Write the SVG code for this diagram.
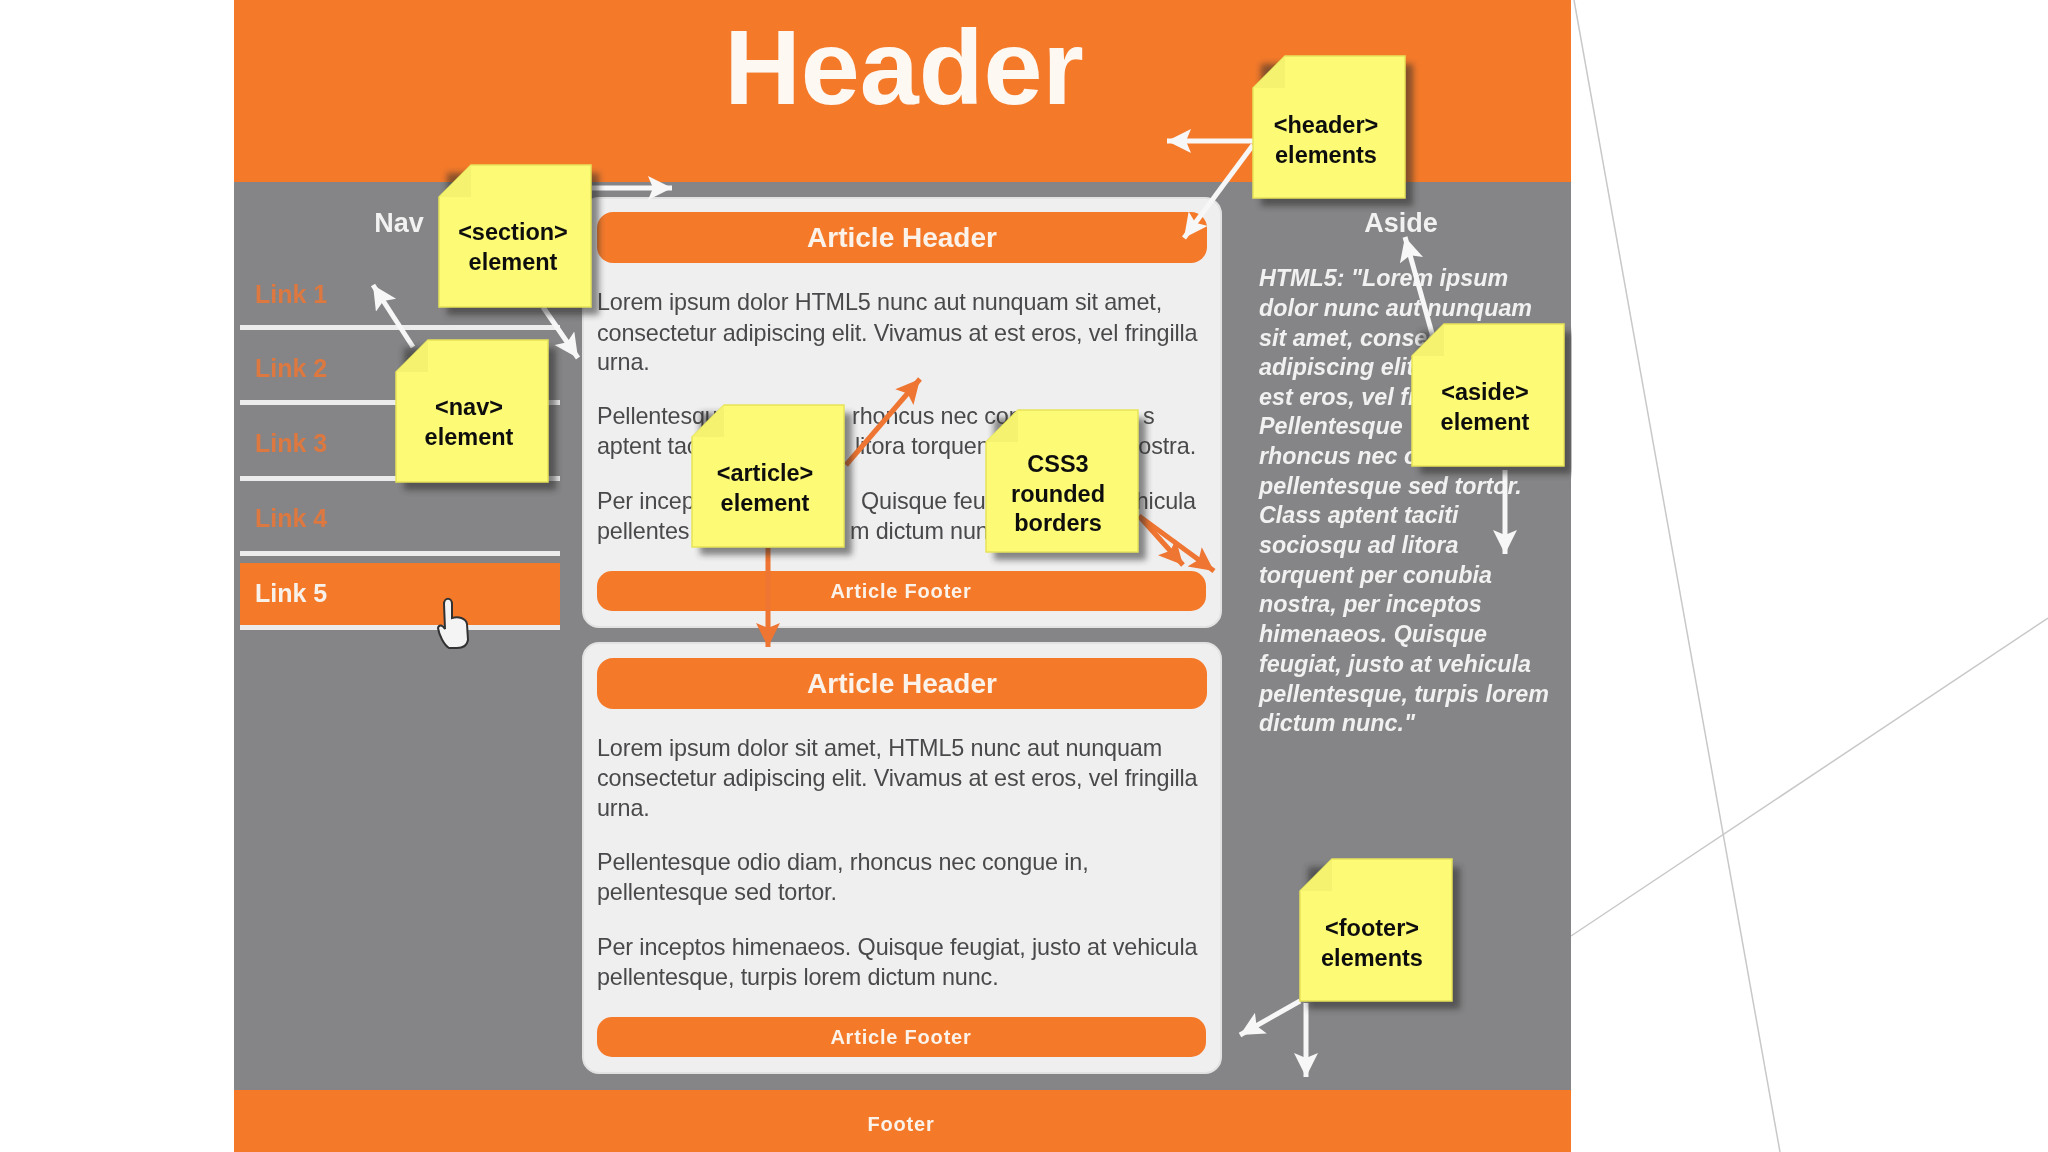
<svg xmlns="http://www.w3.org/2000/svg" width="2048" height="1152" viewBox="0 0 2048 1152">
<defs>
<style>
text{font-family:"Liberation Sans",Arial,sans-serif}
.b{font-size:23.4px;fill:#4a4a4c;letter-spacing:-.14px}
.a{font-size:23.3px;fill:#f1f1f1;font-weight:bold;font-style:italic}
.l{font-size:25px;fill:#dc7840;font-weight:bold}
.t{font-size:27px;fill:#f2f2f2;font-weight:bold;text-anchor:middle}
.ah{font-size:28px;fill:#fbf3ea;font-weight:bold;text-anchor:middle}
.af{font-size:20px;fill:#fbf3ea;font-weight:bold;text-anchor:middle;letter-spacing:.8px}
.n{font-size:23.5px;fill:#111;font-weight:bold;text-anchor:middle}
.pn{fill:#efeff0;stroke:#e2e2e2;stroke-width:2}
.pill{fill:#f47a2c}
.rule{fill:#ececec}
.sheet{fill:#fdfb74;stroke:#e6e45a;stroke-width:1.5}
.fold{fill:#f4f26e}
.w{stroke:#f7f7f7;stroke-width:5;fill:none;marker-end:url(#hw)}
.o{stroke:#ee7430;stroke-width:5;fill:none;marker-end:url(#ho)}
</style>
<marker id="hw" markerUnits="userSpaceOnUse" markerWidth="28" markerHeight="28" refX="24" refY="12" orient="auto"><path d="M0 0L24 12L0 24L5 12Z" fill="#f7f7f7"/></marker>
<marker id="ho" markerUnits="userSpaceOnUse" markerWidth="28" markerHeight="28" refX="24" refY="12" orient="auto"><path d="M0 0L24 12L0 24L5 12Z" fill="#ee7430"/></marker>
<filter id="sh" x="-20%" y="-20%" width="140%" height="140%"><feGaussianBlur stdDeviation="3"/></filter>
<filter id="soft" x="0" y="0" width="100%" height="100%"><feGaussianBlur stdDeviation="0.7"/></filter>
<g id="note"><rect x="8" y="8" width="152" height="142" fill="#2b2b2b" opacity=".55" filter="url(#sh)"/><path class="sheet" d="M32 0H152V142H0V32Z"/><path class="fold" d="M32 0V32H0Z"/></g>
</defs>
<rect width="2048" height="1152" fill="#fff"/>
<g stroke="#c8c8c8" stroke-width="1.5"><line x1="1574" y1="0" x2="1780" y2="1152"/><line x1="1571" y1="936" x2="2048" y2="618"/></g>
<g filter="url(#soft)">
<g id="page">
<rect x="234" y="180" width="1337" height="912" fill="#858486"/>
<rect x="234" y="0" width="1337" height="182" fill="#f47a2c"/>
<rect x="234" y="1090" width="1337" height="62" fill="#f47a2c"/>
<text x="904" y="104" font-size="106" font-weight="bold" fill="#fdf8f2" text-anchor="middle" style="font-size:106px;fill:#fdf8f2">Header</text>
<text x="901" y="1131" class="af">Footer</text>
</g>
<g id="nav">
<text x="399" y="232" class="t">Nav</text>
<text x="255" y="303" class="l">Link 1</text><rect class="rule" x="240" y="325" width="320" height="5"/>
<text x="255" y="377" class="l">Link 2</text><rect class="rule" x="240" y="400" width="320" height="5"/>
<text x="255" y="452" class="l">Link 3</text><rect class="rule" x="240" y="476" width="320" height="5"/>
<text x="255" y="527" class="l">Link 4</text><rect class="rule" x="240" y="551" width="320" height="5"/>
<rect class="pill" x="240" y="563" width="320" height="62"/>
<text x="255" y="602" class="l" style="fill:#f8f1ea">Link 5</text><rect class="rule" x="240" y="625" width="320" height="5"/>
</g>
<g id="article-1">
<rect class="pn" x="583" y="198" width="638" height="429" rx="16"/>
<rect class="pill" x="597" y="212" width="610" height="51" rx="16"/>
<text x="902" y="247" class="ah">Article Header</text>
<text x="597" y="310" class="b">Lorem ipsum dolor HTML5 nunc aut nunquam sit amet,</text>
<text x="597" y="341" class="b">consectetur adipiscing elit. Vivamus at est eros, vel fringilla</text>
<text x="597" y="370" class="b">urna.</text>
<text x="597" y="424" class="b">Pellentesqu</text><text x="852" y="424" class="b">rhoncus nec con</text><text x="1143" y="424" class="b">s</text>
<text x="597" y="454" class="b">aptent tac</text><text x="855" y="454" class="b">litora torquen</text><text x="1196" y="454" class="b" text-anchor="end">ostra.</text>
<text x="597" y="509" class="b">Per incep</text><text x="861" y="509" class="b">Quisque feu</text><text x="1196" y="509" class="b" text-anchor="end">hicula</text>
<text x="597" y="539" class="b">pellentes</text><text x="850" y="539" class="b">m dictum nunc</text>
<rect class="pill" x="597" y="571" width="609" height="40" rx="15"/>
<text x="901" y="598" class="af">Article Footer</text>
</g>
<g id="article-2">
<rect class="pn" x="583" y="643" width="638" height="430" rx="16"/>
<rect class="pill" x="597" y="658" width="610" height="51" rx="16"/>
<text x="902" y="693" class="ah">Article Header</text>
<text x="597" y="756" class="b">Lorem ipsum dolor sit amet, HTML5 nunc aut nunquam</text>
<text x="597" y="786" class="b">consectetur adipiscing elit. Vivamus at est eros, vel fringilla</text>
<text x="597" y="816" class="b">urna.</text>
<text x="597" y="870" class="b">Pellentesque odio diam, rhoncus nec congue in,</text>
<text x="597" y="900" class="b">pellentesque sed tortor.</text>
<text x="597" y="955" class="b">Per inceptos himenaeos. Quisque feugiat, justo at vehicula</text>
<text x="597" y="985" class="b">pellentesque, turpis lorem dictum nunc.</text>
<rect class="pill" x="597" y="1017" width="609" height="40" rx="15"/>
<text x="901" y="1044" class="af">Article Footer</text>
</g>
<g id="aside">
<text x="1401" y="232" class="t">Aside</text>
<text x="1259" y="286" class="a">HTML5: "Lorem ipsum</text>
<text x="1259" y="316" class="a">dolor nunc aut nunquam</text>
<text x="1259" y="346" class="a">sit amet, consec</text>
<text x="1259" y="375" class="a">adipiscing elit.</text>
<text x="1259" y="405" class="a">est eros, vel fr</text>
<text x="1259" y="434" class="a">Pellentesque</text>
<text x="1259" y="464" class="a">rhoncus nec c</text>
<text x="1259" y="494" class="a">pellentesque sed tortor.</text>
<text x="1259" y="523" class="a">Class aptent taciti</text>
<text x="1259" y="553" class="a">sociosqu ad litora</text>
<text x="1259" y="583" class="a">torquent per conubia</text>
<text x="1259" y="612" class="a">nostra, per inceptos</text>
<text x="1259" y="642" class="a">himenaeos. Quisque</text>
<text x="1259" y="672" class="a">feugiat, justo at vehicula</text>
<text x="1259" y="702" class="a">pellentesque, turpis lorem</text>
<text x="1259" y="731" class="a">dictum nunc."</text>
</g>
<g id="connectors">
<path class="w" d="M592 188H672"/>
<path class="w" d="M543 307L578 358"/>
<path class="w" d="M413 347L373 285"/>
<path class="o" d="M846 465L920 379"/>
<path class="o" d="M768 548V647"/>
<path class="o" d="M1139 516L1183 565"/>
<path class="o" d="M1139 516L1214 571"/>
<path class="w" d="M1253 141H1167"/>
<path class="w" d="M1253 145L1184 238"/>
<path class="w" d="M1433 337L1405 237"/>
<path class="w" d="M1505 470V554"/>
<path class="w" d="M1300 1001L1240 1035"/>
<path class="w" d="M1306 1003V1077"/>
</g>
<g id="cursor"><path d="M444 604C444 597 452 597 452 604V618C458 616 466 618 467 624L468 640C467 646 462 648 457 648H449C444 645 439 635 438 628C439 624 443 625 445 629Z" fill="#f4f4f4" stroke="#333" stroke-width="2"/></g>
<g id="note-section"><use href="#note" x="439" y="165"/><text x="513" y="240" class="n">&lt;section&gt;</text><text x="513" y="270" class="n">element</text></g>
<g id="note-nav"><use href="#note" x="396" y="340"/><text x="469" y="415" class="n">&lt;nav&gt;</text><text x="469" y="445" class="n">element</text></g>
<g id="note-article"><use href="#note" x="692" y="405"/><text x="765" y="481" class="n">&lt;article&gt;</text><text x="765" y="511" class="n">element</text></g>
<g id="note-css3"><use href="#note" x="986" y="410"/><text x="1058" y="472" class="n">CSS3</text><text x="1058" y="502" class="n">rounded</text><text x="1058" y="531" class="n">borders</text></g>
<g id="note-header"><use href="#note" x="1253" y="56"/><text x="1326" y="133" class="n">&lt;header&gt;</text><text x="1326" y="163" class="n">elements</text></g>
<g id="note-aside"><use href="#note" x="1412" y="324"/><text x="1485" y="400" class="n">&lt;aside&gt;</text><text x="1485" y="430" class="n">element</text></g>
<g id="note-footer"><use href="#note" x="1300" y="859"/><text x="1372" y="936" class="n">&lt;footer&gt;</text><text x="1372" y="966" class="n">elements</text></g>
</g>
</svg>
